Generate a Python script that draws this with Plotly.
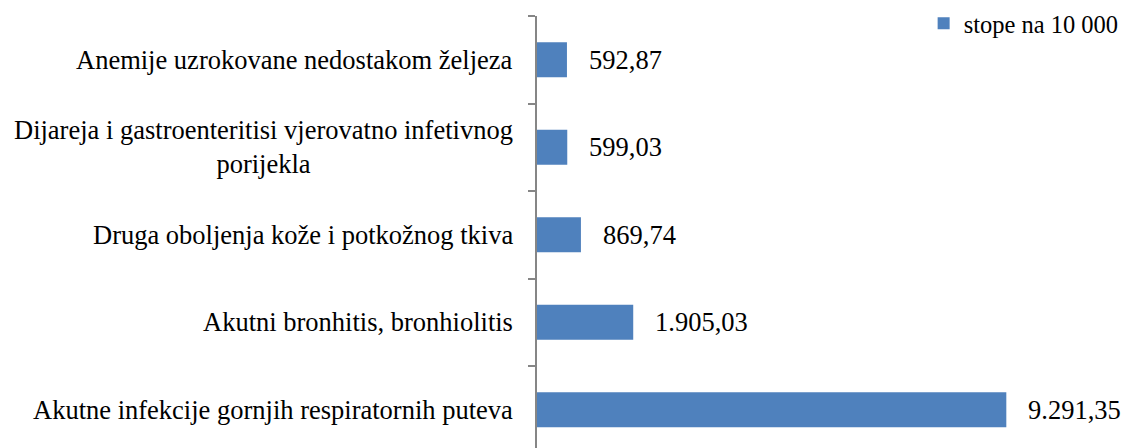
import plotly.graph_objects as go

categories = [
    "Akutne infekcije gornjih respiratornih puteva",
    "Akutni bronhitis, bronhiolitis",
    "Druga oboljenja kože i potkožnog tkiva",
    "Dijareja i gastroenteritisi vjerovatno infetivnog<br>porijekla",
    "Anemije uzrokovane nedostakom željeza",
]
values = [9291.35, 1905.03, 869.74, 599.03, 592.87]
series_name = "stope na 10 000"

FONT = "Liberation Serif"
BAR_COLOR = "#4F81BD"
AXIS_COLOR = "#868686"


def fmt(v):
    s = f"{v:,.2f}"
    return s.replace(",", "X").replace(".", ",").replace("X", ".")


ypos = list(range(len(categories)))

fig = go.Figure()
fig.add_trace(go.Bar(
    x=values, y=ypos, orientation="h", width=0.4,
    marker=dict(color=BAR_COLOR, line=dict(width=0)),
    name=series_name, showlegend=True,
))

annotations = []
for i, (c, v) in enumerate(zip(categories, values)):
    annotations.append(dict(
        x=0, y=i, xref="x", yref="y", text=c, showarrow=False,
        xanchor="right", yanchor="middle", align="center", xshift=-22,
        font=dict(family=FONT, size=26.5, color="black"),
    ))
    annotations.append(dict(
        x=v, y=i, xref="x", yref="y", text=fmt(v), showarrow=False,
        xanchor="left", yanchor="middle", xshift=20,
        font=dict(family=FONT, size=26.5, color="black"),
    ))

# page body adds an 8px margin; figure is sized to fill the rest of the window
fig.update_layout(
    width=1122, height=440,
    margin=dict(l=529, r=0, t=8, b=0, autoexpand=False),
    paper_bgcolor="white", plot_bgcolor="white",
    font=dict(family=FONT, size=26, color="black"),
    annotations=annotations,
    showlegend=True,
    legend=dict(x=0.652, xanchor="left", y=1.035, yanchor="top",
                font=dict(family=FONT, size=24.5, color="black"),
                bgcolor="rgba(0,0,0,0)", itemwidth=30,
                borderwidth=0),
    xaxis=dict(range=[0, 11740], visible=False, fixedrange=True),
    yaxis=dict(
        range=[-0.437, 4.5],
        tickvals=[i - 0.5 for i in range(len(categories) + 1)],
        showticklabels=False, ticks="outside", ticklen=7,
        tickcolor=AXIS_COLOR, tickwidth=1.5,
        showline=True, linecolor=AXIS_COLOR, linewidth=1.5,
        showgrid=False, zeroline=False,
    ),
)

fig.write_html("out.html")
